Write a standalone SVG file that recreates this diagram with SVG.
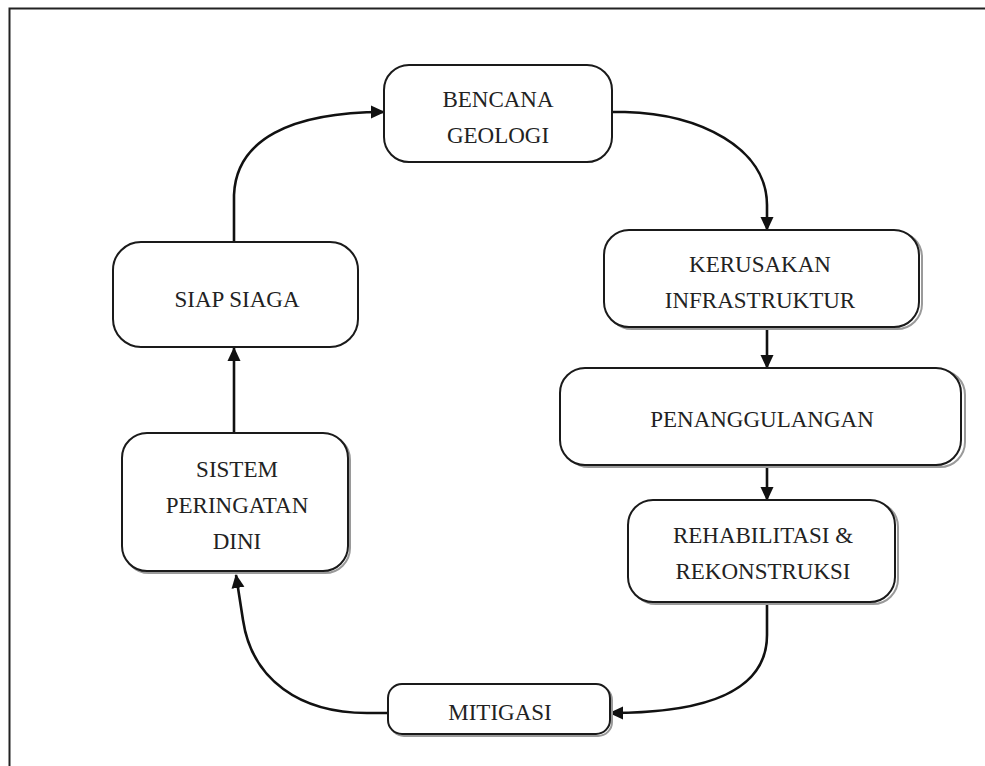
<svg xmlns="http://www.w3.org/2000/svg" width="985" height="766" viewBox="0 0 985 766">
<style>
.box{fill:#fff;stroke:#1a1a1a;stroke-width:2}
.sh{fill:none;stroke:#9a9a9a;stroke-width:2}
.t{font-family:"Liberation Serif","Times New Roman",serif;font-size:23px;fill:#222;text-anchor:middle}
.c{fill:none;stroke:#111;stroke-width:2.6}
</style>
<defs>
<marker id="ah" markerUnits="userSpaceOnUse" markerWidth="14" markerHeight="14" viewBox="0 0 14 14" refX="13" refY="7" orient="auto">
<path d="M0,0.5 L14,7 L0,13.5 z" fill="#111"/>
</marker>
</defs>
<rect width="985" height="766" fill="#fff"/>
<path d="M9.5,766 V8.5 H985" fill="none" stroke="#222" stroke-width="2"/>
<g id="connectors">
<path class="c" d="M234,242 L234,195 C236,140 290,112 384,112" marker-end="url(#ah)"/>
<path class="c" d="M612,112 L625,112 C700,114 767,148 767,205 L767,230" marker-end="url(#ah)"/>
<path class="c" d="M767,327 L767,368" marker-end="url(#ah)"/>
<path class="c" d="M767,465 L767,500" marker-end="url(#ah)"/>
<path class="c" d="M767,602 L767,635 C767,690 710,713 610,713" marker-end="url(#ah)"/>
<path class="c" d="M388,713 L367,713 C300,713 252,680 243,620 L236,575" marker-end="url(#ah)"/>
<path class="c" d="M234,433 L234,348" marker-end="url(#ah)"/>
</g>
<g id="bencana">
<rect class="box" x="384" y="65" width="228" height="97" rx="25"/>
<text class="t" x="498" y="107">BENCANA</text>
<text class="t" x="498" y="143">GEOLOGI</text>
</g>
<g id="kerusakan">
<rect class="sh" x="607" y="232" width="315" height="97" rx="25"/>
<rect class="box" x="604" y="230" width="315" height="97" rx="25"/>
<text class="t" x="760" y="272">KERUSAKAN</text>
<text class="t" x="760" y="308">INFRASTRUKTUR</text>
</g>
<g id="penanggulangan">
<rect class="sh" x="564" y="370" width="401" height="97" rx="25"/>
<rect class="box" x="560" y="368" width="401" height="97" rx="25"/>
<text class="t" x="762" y="427">PENANGGULANGAN</text>
</g>
<g id="rehabilitasi">
<rect class="sh" x="631" y="502" width="267" height="102" rx="25"/>
<rect class="box" x="628" y="500" width="267" height="102" rx="25"/>
<text class="t" x="763" y="543">REHABILITASI &amp;</text>
<text class="t" x="763" y="579">REKONSTRUKSI</text>
</g>
<g id="mitigasi">
<rect class="sh" x="390" y="686" width="222" height="50" rx="14"/>
<rect class="box" x="388" y="684" width="222" height="50" rx="14"/>
<text class="t" x="500" y="720">MITIGASI</text>
</g>
<g id="sistem">
<rect class="sh" x="124" y="435" width="226" height="138" rx="25"/>
<rect class="box" x="122" y="433" width="226" height="138" rx="25"/>
<text class="t" x="237" y="477">SISTEM</text>
<text class="t" x="237" y="513">PERINGATAN</text>
<text class="t" x="237" y="549">DINI</text>
</g>
<g id="siapsiaga">
<rect class="box" x="113" y="242" width="245" height="105" rx="28"/>
<text class="t" x="237" y="307">SIAP SIAGA</text>
</g>
</svg>
